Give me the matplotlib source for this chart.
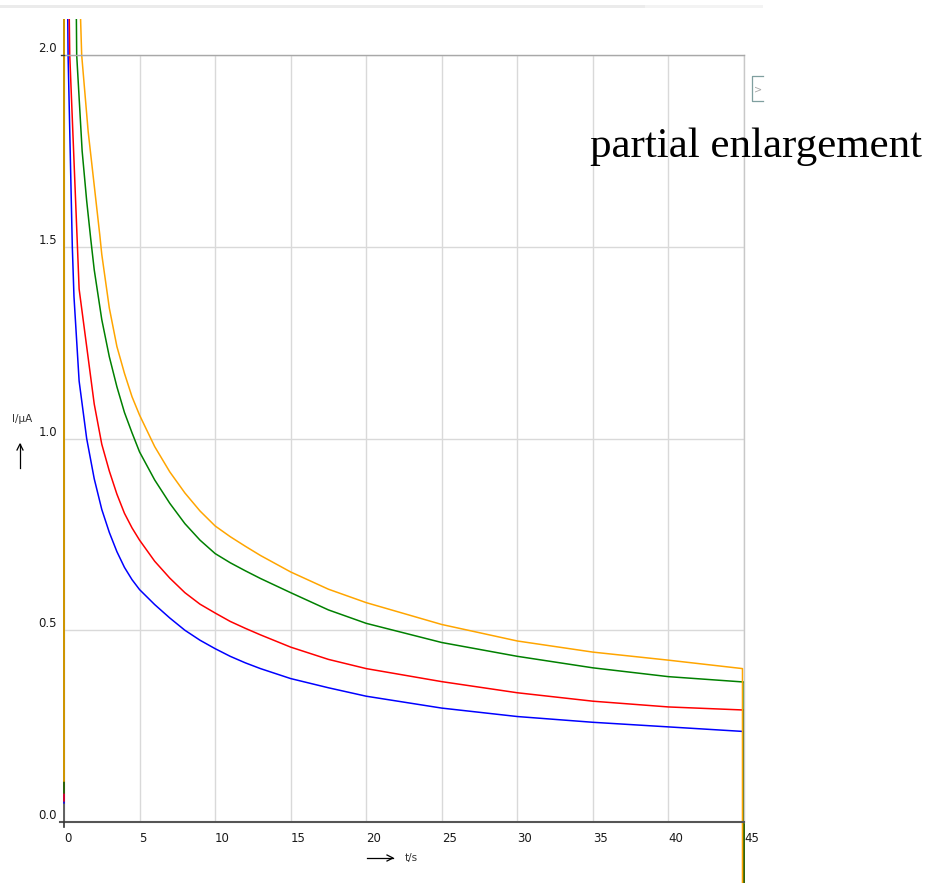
import matplotlib.pyplot as plt
from matplotlib.patches import Rectangle
from matplotlib.lines import Line2D

W, H = 926, 883

# time axis ticks and current ticks
x_ticks = [0, 5, 10, 15, 20, 25, 30, 35, 40, 45]
y_ticks = [0.0, 0.5, 1.0, 1.5, 2.0]

# curves (t in s, I in uA)
blue_t = [0.0, 0.0, 0.2, 0.25, 0.27, 0.55, 0.66, 1.0, 1.5, 2.0, 2.5, 3.0, 3.5, 4.0, 4.5, 5.0,
          6.0, 7.0, 8.0, 9.0, 10.0, 11.0, 12.0, 13.0, 15.0, 17.5, 20.0, 25.0, 30.0, 35.0,
          40.0, 45.0, 45.0]
blue_i = [0.05, 3.0, 2.3, 2.09, 2.0, 1.5, 1.37, 1.15, 1.0, 0.895, 0.815, 0.755, 0.705, 0.664, 0.632, 0.606,
          0.567, 0.532, 0.50, 0.474, 0.452, 0.432, 0.415, 0.40, 0.374, 0.35, 0.328, 0.297, 0.275, 0.26,
          0.248, 0.236, -0.3]

red_t = [0.0, 0.0, 0.3, 0.35, 0.38, 0.89, 1.0, 1.5, 2.0, 2.5, 3.0, 3.5, 4.0, 4.5, 5.0,
         6.0, 7.0, 8.0, 9.0, 10.0, 11.0, 12.0, 13.0, 15.0, 17.5, 20.0, 25.0, 30.0, 35.0,
         40.0, 45.0, 45.0]
red_i = [0.055, 3.0, 2.3, 2.09, 2.0, 1.5, 1.39, 1.24, 1.09, 0.985, 0.915, 0.855, 0.805, 0.767, 0.735,
         0.68, 0.636, 0.598, 0.568, 0.545, 0.523, 0.505, 0.488, 0.456, 0.424, 0.40, 0.366, 0.337, 0.315,
         0.30, 0.292, -0.3]

green_t = [0.0, 0.0, 0.7, 0.82, 0.84, 1.2, 1.5, 1.77, 2.0, 2.5, 3.0, 3.5, 4.0, 4.5, 5.0,
           6.0, 7.0, 8.0, 9.0, 10.0, 11.0, 12.0, 13.0, 15.0, 17.5, 20.0, 25.0, 30.0, 35.0,
           40.0, 45.0, 45.0]
green_i = [0.076, 3.0, 2.35, 2.09, 2.0, 1.75, 1.62, 1.52, 1.44, 1.31, 1.213, 1.135, 1.068, 1.015, 0.965,
           0.892, 0.831, 0.778, 0.735, 0.70, 0.676, 0.655, 0.635, 0.598, 0.553, 0.518, 0.468, 0.432, 0.402,
           0.379, 0.365, -0.3]

orange_t = [0.0, 0.0, 0.95, 1.1, 1.17, 1.6, 2.0, 2.37, 2.5, 3.0, 3.5, 4.0, 4.5, 5.0,
            6.0, 7.0, 8.0, 9.0, 10.0, 11.0, 12.0, 13.0, 15.0, 17.5, 20.0, 25.0, 30.0, 35.0,
            40.0, 44.9, 44.9]
orange_i = [0.107, 3.0, 2.3, 2.09, 2.0, 1.8, 1.66, 1.53, 1.48, 1.34, 1.24, 1.17, 1.109, 1.061,
            0.979, 0.913, 0.858, 0.811, 0.772, 0.744, 0.719, 0.695, 0.652, 0.607, 0.572, 0.515, 0.472, 0.443,
            0.422, 0.40, -0.3]

series = [
    (blue_t, blue_i, "#0000ff"),
    (red_t, red_i, "#ff0000"),
    (green_t, green_i, "#008000"),
    (orange_t, orange_i, "#ffa500"),
]


def px(x, y):
    # pixel position -> figure fraction
    return x / W, 1 - y / H


fig = plt.figure(figsize=(W / 100, H / 100), dpi=100)
ax = fig.add_axes([64 / W, (H - 822) / H, 680 / W, 767 / H])
ax.set_xlim(0, 45)
ax.set_ylim(0, 2.0)

ax.grid(True, color="#d9d9d9", lw=1.0)
ax.set_axisbelow(True)

# the plot area of the control reaches a bit above 2.0
clip = Rectangle((-1, -1), 47, 3.094, transform=ax.transData)
for t, i, c in series:
    ln, = ax.plot(t, i, color=c, lw=1.1)
    ln.set_clip_path(clip)

for s in ["top", "right"]:
    ax.spines[s].set_color("#c8c8c8")
    ax.spines[s].set_linewidth(1.0)
ax.spines["top"].set_color("#a8a8a8")
ax.spines["left"].set_color("#555555")
ax.spines["bottom"].set_color("#555555")
ax.spines["left"].set_linewidth(1.3)
ax.spines["bottom"].set_linewidth(1.5)
ax.spines["left"].set_zorder(1)

ax.set_xticks(x_ticks)
ax.set_xticklabels([str(v) for v in x_ticks], ha="left")
ax.set_yticks(y_ticks)
ax.set_yticklabels(["%.1f" % v for v in y_ticks], va="bottom")
ax.tick_params(axis="x", length=0, pad=7, labelsize=8.5, labelcolor="#1a1a1a")
ax.tick_params(axis="y", length=0, pad=5, labelsize=8.5, labelcolor="#1a1a1a")

# little spine overhangs
fig.add_artist(Line2D([60 / W, 64 / W], [1 - 822 / H, 1 - 822 / H], color="#555555", lw=1.5))
fig.add_artist(Line2D([64 / W, 64 / W], [1 - 822 / H, 1 - 827 / H], color="#333333", lw=1.2))
fig.add_artist(Line2D([61 / W, 64 / W], [1 - 55 / H, 1 - 55 / H], color="#333333", lw=1.0))

# axis labels with arrows
fig.text(*px(22, 419), "I/µA", fontsize=7.5, color="#333333", ha="center", va="center")
fig.add_artist(Line2D([20 / W, 20 / W], [1 - 468 / H, 1 - 444 / H], color="black", lw=0.9))
fig.add_artist(Line2D([17 / W, 20 / W, 23 / W], [1 - 450 / H, 1 - 444 / H, 1 - 450 / H], color="black", lw=0.9))
fig.add_artist(Line2D([367 / W, 393 / W], [1 - 858 / H, 1 - 858 / H], color="black", lw=0.9))
fig.add_artist(Line2D([387 / W, 393 / W, 387 / W], [1 - 855 / H, 1 - 858 / H, 1 - 861 / H], color="black", lw=0.9))
fig.text(*px(405, 858), "t/s", fontsize=7.5, color="#333333", ha="left", va="center")

# window chrome bits
fig.add_artist(Rectangle(px(0, 8), 645 / W, 3 / H, color="#ebebeb", lw=0))
fig.add_artist(Rectangle(px(645, 8), 118 / W, 3 / H, color="#f3f3f3", lw=0))
fig.add_artist(Line2D([763 / W, 752 / W, 752 / W, 763 / W],
                      [1 - 76 / H, 1 - 76 / H, 1 - 101 / H, 1 - 101 / H], color="#7f9f9f", lw=0.9))
fig.text(*px(758, 89), ">", fontsize=7, color="#aaaaaa", ha="center", va="center")

fig.text(*px(590, 157), "partial enlargement", family="Liberation Serif", fontsize=31,
         color="black", ha="left", va="baseline")

fig.savefig("out.png", dpi=100)
